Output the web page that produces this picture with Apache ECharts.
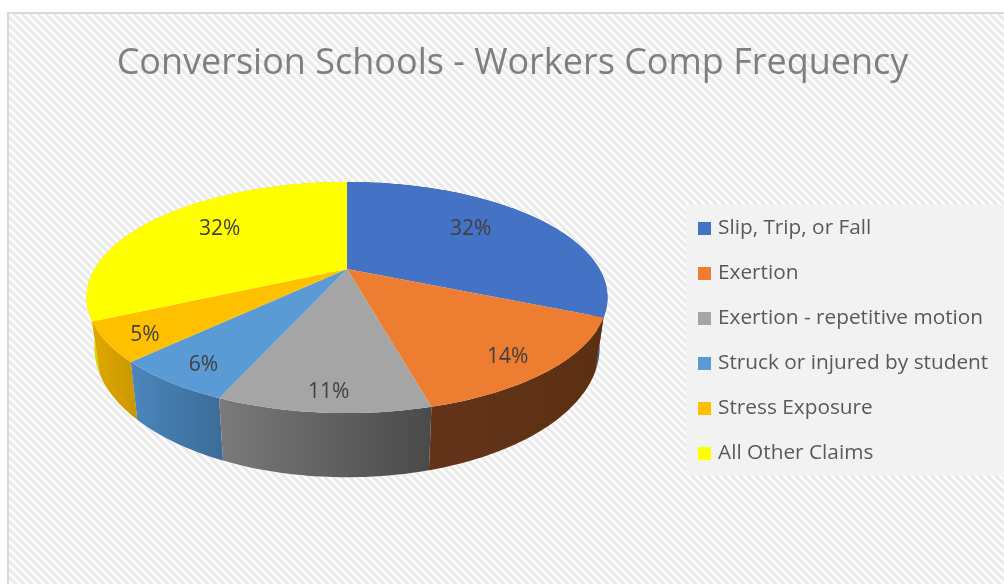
<!DOCTYPE html>
<html><head><meta charset="utf-8">
<style>html,body{margin:0;padding:0;background:#fff}#c{width:1004px;height:584px}</style>
<script src="https://cdn.jsdelivr.net/npm/echarts@6/dist/echarts.min.js"></script>
</head><body><div id="c"></div>
<script>
const titleText = 'Conversion Schools - Workers Comp Frequency';
const categories = ['Slip, Trip, or Fall','Exertion','Exertion - repetitive motion','Struck or injured by student','Stress Exposure','All Other Claims'];
const shares = [31.6, 14.3, 10.5, 6.1, 5.4, 32.1];
const topColors = ['#4472C4','#ED7D31','#A5A5A5','#5B9BD5','#FFC000','#FFFF00'];
const sideFrom = ['#2f5597','#63341a','#7a7a7a','#4a86bd','#dfa800','#d9d900'];
const sideTo   = ['#2f5597','#5c2f12','#4a4a4a','#3c6c98','#c99700','#cfcf00'];

// Perspective view of the pie disc
const P = {cx:347, cy:269, A:252.4, B:108.5, k:0.2468};
const labelNudge = [[1,0],[-11,2],[2,2],[7,0],[4,3],[-3,0]];
function project(theta, r){
  const u=Math.sin(theta)*r, v=Math.cos(theta)*r, w=1+P.k*v;
  return [P.cx+P.A*u/w, P.cy-P.B*v/w];
}
function lower(p){ return [P.cx+0.97*(p[0]-P.cx), 1.124*p[1]+13]; }
const total = shares.reduce((a,b)=>a+b,0);
function range(i){
  let s=0; for(let j=0;j<i;j++) s+=shares[j];
  return [s/total*2*Math.PI,(s+shares[i])/total*2*Math.PI];
}
function arc(a,b){
  const n=Math.max(4,Math.ceil((b-a)/0.02)), pts=[];
  for(let i=0;i<=n;i++) pts.push(project(a+(b-a)*i/n,1));
  return pts;
}
function sideEl(i){
  const [a,b]=range(i), top=arc(a,b), bot=top.map(lower).reverse();
  const xs=top.concat(bot).map(p=>p[0]);
  const x0=Math.min(...xs), x1=Math.max(...xs);
  return {type:'polygon',z2:Math.round(-Math.cos((a+b)/2)*10),shape:{points:top.concat(bot)},
    style:{fill:new echarts.graphic.LinearGradient(x0,0,x1,0,[{offset:0,color:sideFrom[i]},{offset:1,color:sideTo[i]}],true)}};
}
function topEl(i){
  const [a,b]=range(i);
  return {type:'polygon',z2:20,shape:{points:[[P.cx,P.cy]].concat(arc(a,b))},style:{fill:topColors[i]}};
}
function labelEl(i){
  const [a,b]=range(i), mid=(a+b)/2, back=Math.cos(mid)>0;
  const p=project(mid, back?0.63:0.875);
  return {type:'text',z2:30,style:{text:Math.round(shares[i])+'%',x:p[0]+labelNudge[i][0],y:p[1]+(back?-6:0)+labelNudge[i][1],align:'center',verticalAlign:'middle',
    fill:'#404040',font:'21px "Open Sans"'}};
}
function pattern(){
  const n=8,c=document.createElement('canvas'); c.width=c.height=n;
  const g=c.getContext('2d');
  for(let y=0;y<n;y++) for(let x=0;x<n;x++){
    const s=0.5+0.5*Math.cos(2*Math.PI*(x-y)/n), t=Math.round(255-24*s);
    g.fillStyle='rgb('+t+','+t+','+t+')'; g.fillRect(x,y,1,1);
  }
  return c;
}
const series = categories.map((name,i)=>({
  type:'custom',name,coordinateSystem:'none',silent:true,
  itemStyle:{color:topColors[i]},
  z:2,
  data:[[shares[i],i]],
  renderItem:()=>({type:'group',children:[sideEl(i)]})
}));
series.push({type:'custom',coordinateSystem:'none',silent:true,z:5,data:shares.map((v,i)=>[v,i]),
  renderItem:(p,api)=>{const i=api.value(1);return {type:'group',children:[topEl(i)]};}});
series.push({type:'custom',coordinateSystem:'none',silent:true,z:6,data:shares.map((v,i)=>[v,i]),
  renderItem:(p,api)=>{const i=api.value(1);return {type:'group',children:[labelEl(i)]};}});

const chart=echarts.init(document.getElementById('c'),null,{renderer:'canvas'});
chart.setOption({
  animation:false,
  backgroundColor:'#fff',
  title:{text:titleText,left:507.5,top:41,textAlign:'center',textStyle:{color:'#7f7f7f',fontFamily:'Open Sans',fontWeight:'normal',fontSize:36}},
  legend:{orient:'vertical',left:686,top:205,selectedMode:false,backgroundColor:'#f2f2f2',
    padding:[13,30,11,12],itemWidth:13,itemHeight:13,itemGap:24,icon:'rect',
    data:categories,textStyle:{color:'#595959',fontFamily:'Open Sans',fontSize:20.8,lineHeight:20,padding:[0,0,0,2]}},
  graphic:[{type:'rect',z:-10,silent:true,shape:{x:8,y:13,width:1000,height:575},
    style:{fill:{image:pattern(),repeat:'repeat'},stroke:'#d9d9d9',lineWidth:2}}],
  series
});
</script></body></html>
